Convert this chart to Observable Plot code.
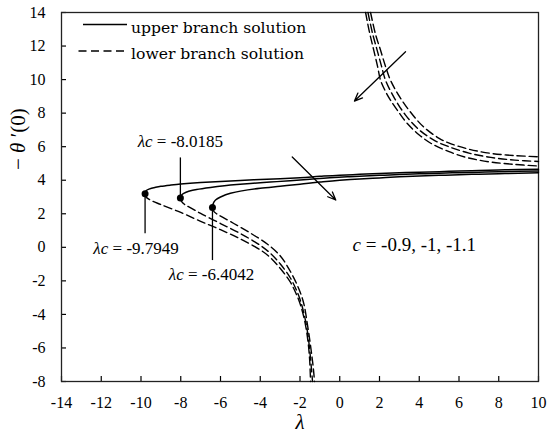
<!DOCTYPE html>
<html><head><meta charset="utf-8">
<script src="https://cdn.jsdelivr.net/npm/d3@7"></script>
<script src="https://cdn.jsdelivr.net/npm/@observablehq/plot@0.6"></script>
<style>
body{margin:0;background:#fff;}
#chart{width:550px;height:436px;position:relative;}
</style></head><body><div id="chart"></div>
<script>
// ---- data ----
const cValues = ["-0.9", "-1", "-1.1"];
const lambdaC = [-9.7949, -8.0185, -6.4042];
const thetaC = [3.2, 2.94, 2.37];
const xTicks = [-14, -12, -10, -8, -6, -4, -2, 0, 2, 4, 6, 8, 10];
const yTicks = [-8, -6, -4, -2, 0, 2, 4, 6, 8, 10, 12, 14];

// upper branch (solid)
const upper09 = [[-9.7949,3.2],[-9.75,3.36],[-9.6,3.47],[-9.3,3.57],[-9.0,3.64],[-8.5,3.71],[-8.0,3.77],[-7.0,3.86],[-6.0,3.93],[-5.0,3.99],[-4.0,4.04],[-3.0,4.09],[-2.0,4.15],[-1.0,4.23],[0,4.3],[1,4.35],[2,4.4],[3,4.44],[4,4.48],[5,4.51],[6,4.55],[7,4.58],[8,4.61],[9,4.64],[10,4.66]];
const upper10 = [[-8.0185,2.94],[-7.97,3.1],[-7.85,3.22],[-7.6,3.34],[-7.2,3.45],[-6.5,3.57],[-5.5,3.71],[-4.5,3.81],[-3.5,3.89],[-2.5,3.97],[-1.5,4.06],[-0.5,4.15],[0.5,4.21],[2,4.29],[3,4.34],[4,4.38],[5,4.42],[6,4.45],[7,4.48],[8,4.51],[9,4.53],[10,4.55]];
const upper11 = [[-6.4042,2.37],[-6.37,2.6],[-6.25,2.82],[-6.0,3.0],[-5.5,3.22],[-5.0,3.35],[-4.0,3.52],[-3.0,3.64],[-2.0,3.76],[-1.0,3.89],[0,4.0],[1,4.08],[2,4.14],[3,4.2],[4,4.25],[5,4.29],[6,4.33],[7,4.36],[8,4.39],[9,4.42],[10,4.44]];

// lower branch, part falling to -8 (dashed)
const lowerDown09 = [[-9.7949,3.2],[-9.75,3.0],[-9.5,2.8],[-9.0,2.55],[-8.0,2.08],[-7.0,1.55],[-6.0,1.05],[-5.0,0.5],[-4.0,-0.15],[-3.5,-0.6],[-3.0,-1.25],[-2.5,-2.05],[-2.2,-2.75],[-2.0,-3.35],[-1.8,-4.2],[-1.67,-5.0],[-1.58,-5.8],[-1.52,-6.6],[-1.49,-7.3],[-1.47,-8]];
const lowerDown10 = [[-8.0185,2.94],[-7.97,2.75],[-7.8,2.55],[-7.5,2.35],[-7.0,2.02],[-6.0,1.42],[-5.0,0.82],[-4.0,0.12],[-3.5,-0.35],[-3.0,-0.98],[-2.5,-1.8],[-2.2,-2.5],[-2.0,-3.1],[-1.8,-3.95],[-1.65,-4.85],[-1.55,-5.7],[-1.48,-6.5],[-1.42,-7.3],[-1.37,-8]];
const lowerDown11 = [[-6.4042,2.37],[-6.36,2.18],[-6.2,2.0],[-5.9,1.8],[-5.33,1.42],[-4.5,0.85],[-3.65,0.2],[-3.0,-0.5],[-2.65,-1.1],[-2.3,-1.85],[-2.0,-2.65],[-1.8,-3.4],[-1.64,-4.5],[-1.5,-5.6],[-1.4,-6.5],[-1.33,-7.2],[-1.27,-8]];

// lower branch, part coming from the top (dashed)
const lowerTop09 = [[1.55,14],[1.8,12.7],[2.05,11.76],[2.3,10.8],[2.55,9.97],[3.0,9.0],[3.5,8.15],[4.2,7.2],[5.0,6.5],[5.6,6.17],[6.5,5.85],[7.6,5.6],[8.8,5.47],[10,5.4]];
const lowerTop10 = [[1.42,14],[1.65,12.75],[1.88,11.76],[2.1,10.8],[2.3,9.97],[2.75,8.9],[3.3,7.9],[4.0,7.0],[4.8,6.35],[5.6,5.95],[6.5,5.62],[7.6,5.36],[8.8,5.2],[10,5.12]];
const lowerTop11 = [[1.3,14],[1.5,12.8],[1.71,11.76],[1.9,10.8],[2.05,9.97],[2.3,9.3],[2.55,8.78],[3.0,8.0],[3.4,7.38],[4.0,6.7],[4.6,6.19],[5.5,5.7],[6.4,5.35],[7.5,5.1],[8.7,4.95],[10,4.85]];

// annotation arrows (data units)
const arrowStart = [[-2.39, 5.39], [3.31, 11.66]];
const arrowEnd = [[-0.2, 2.82], [0.74, 8.72]];

// ---- build rows ----
const curveDefs = [
  ["upper", cValues[0], upper09], ["upper", cValues[1], upper10], ["upper", cValues[2], upper11],
  ["lowerDown", cValues[0], lowerDown09], ["lowerDown", cValues[1], lowerDown10], ["lowerDown", cValues[2], lowerDown11],
  ["lowerTop", cValues[0], lowerTop09], ["lowerTop", cValues[1], lowerTop10], ["lowerTop", cValues[2], lowerTop11]
];
const rows = curveDefs.flatMap(([part, c, pts]) => pts.map(([x, y]) => ({x, y, c, part, key: part + c, solid: part === "upper"})));
const solidRows = rows.filter(d => d.solid);
const dashedRows = rows.filter(d => !d.solid);

const labelDx = [-9, 0, -1];
const labelDy = [55, -56, 67];
const leaderLen = [-2.39, 2.39, -3.16];
const points = cValues.map((c, i) => ({c, x: lambdaC[i], y: thetaC[i], label: "λc = " + String(lambdaC[i]), lead: leaderLen[i], dx: labelDx[i], dy: labelDy[i]}));
const arrows = arrowStart.map((s, i) => ({x1: s[0], y1: s[1], x2: arrowEnd[i][0], y2: arrowEnd[i][1]}));

const cLabel = "c = " + cValues.join(", ");
const yLabel = "− θ ′(0)";
const serif = "'Liberation Serif', 'Times New Roman', serif";

const svg = Plot.plot({
  width: 550, height: 436,
  marginLeft: 61, marginRight: 12, marginTop: 12, marginBottom: 55,
  style: {fontFamily: serif, fontSize: "16px", background: "white", color: "black", overflow: "visible"},
  x: {domain: [-14, 10]},
  y: {domain: [-8, 14]},
  marks: [
    Plot.axisX({ticks: xTicks, tickSize: -5, fill: "none", label: null, strokeWidth: 1.2}),
    Plot.axisX({ticks: xTicks, tickSize: 0, tickPadding: 15, label: null, tickFormat: d => String(d), fontSize: 16}),
    Plot.axisY({ticks: yTicks, tickSize: -5, fill: "none", label: null, strokeWidth: 1.2}),
    Plot.axisY({ticks: yTicks, tickSize: 0, tickPadding: 16, label: null, tickFormat: d => String(d), fontSize: 16}),
    Plot.frame({stroke: "#222", strokeWidth: 1.3}),
    Plot.line(solidRows, {x: "x", y: "y", z: "key", stroke: "black", strokeWidth: 1.5, curve: "monotone-y"}),
    Plot.line(dashedRows, {x: "x", y: "y", z: "key", stroke: "black", strokeWidth: 1.4, strokeDasharray: "8,4", curve: "catmull-rom"}),
    Plot.ruleX(points, {x: "x", y1: "y", y2: d => d.y + d.lead, stroke: "black", strokeWidth: 1.3}),
    Plot.dot(points, {x: "x", y: "y", r: 3.5, fill: "black", stroke: "none"}),
    ...points.map(p => Plot.text([p], {x: "x", y: "y", text: "label", dx: p.dx, dy: p.dy, fontSize: 17, fill: "black"})),
    Plot.arrow(arrows, {x1: "x1", y1: "y1", x2: "x2", y2: "y2", stroke: "black", strokeWidth: 1.3, headLength: 10, headAngle: 45}),
    Plot.text([cLabel], {x: 0.64, y: 0.12, text: d => d, textAnchor: "start", fontSize: 19, fill: "black"}),
    Plot.text(["λ"], {frameAnchor: "bottom", dy: 47, text: d => d, fontSize: 21, fontStyle: "italic", fill: "black"}),
    Plot.text([yLabel], {frameAnchor: "left", dx: -43, dy: -27, rotate: -90, text: d => d, fontSize: 21, fill: "black"})
  ]
});

// force serif font on all plot text
svg.setAttribute("font-family", serif);
svg.querySelectorAll("text").forEach(t => {
  t.setAttribute("font-family", serif);
  t.style.fontFamily = serif;
});

// mixed italic text
function styleParts(el, parts) {
  const target = el.querySelector("tspan") || el;
  target.textContent = "";
  const sel = d3.select(target);
  parts.forEach(([t, it]) => sel.append("tspan").text(t).attr("font-style", it ? "italic" : null));
}
svg.querySelectorAll("text").forEach(t => {
  const s = t.textContent;
  if (s.startsWith("λc")) styleParts(t, [["λc", true], [s.slice(2), false]]);
  else if (s === cLabel) styleParts(t, [["c", true], [s.slice(1), false]]);
  else if (s === yLabel) styleParts(t, [["− ", false], ["θ", true], [" ′(0)", false]]);
});

// legend (top-left, inside frame)
const lg = d3.select(svg).append("g").attr("class", "legend").attr("text-anchor", "start");
const legendItems = [
  {text: "upper branch solution", dash: null, x1: 83, y: 24.5},
  {text: "lower branch solution", dash: "8,4.5", x1: 78.5, y: 51}
];
legendItems.forEach(d => {
  lg.append("line").attr("x1", d.x1).attr("x2", 127).attr("y1", d.y).attr("y2", d.y)
    .attr("stroke", "black").attr("stroke-width", 1.4).attr("stroke-dasharray", d.dash);
  lg.append("text").attr("x", 131).attr("y", d.y + 8).attr("text-anchor", "start")
    .attr("font-family", "'DejaVu Serif', serif").style("font-family", "'DejaVu Serif', serif")
    .attr("font-size", 15.6).attr("fill", "black").text(d.text);
});

document.getElementById("chart").appendChild(svg);
</script>
</body></html>
